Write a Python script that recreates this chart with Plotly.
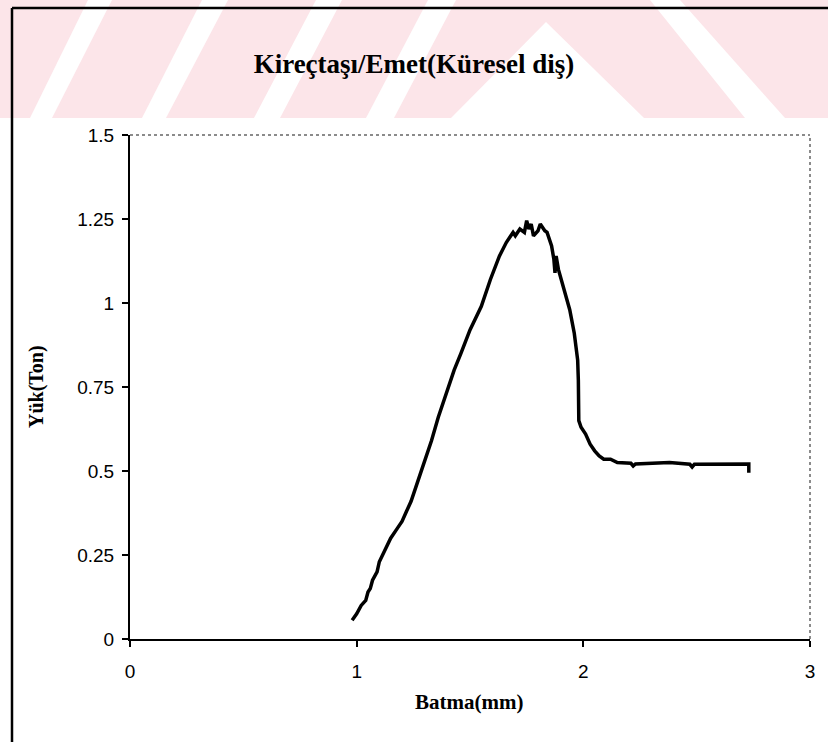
import plotly.graph_objects as go

# ---- data ----
batma_mm = [0.98, 1.00, 1.02, 1.04, 1.05, 1.06, 1.07, 1.08, 1.09, 1.10, 1.12, 1.13,
            1.15, 1.18, 1.20, 1.22, 1.24, 1.27, 1.30, 1.33, 1.36, 1.40, 1.43, 1.46,
            1.50, 1.55, 1.59, 1.63, 1.66, 1.69, 1.70, 1.72, 1.74, 1.75, 1.76, 1.77,
            1.78, 1.80, 1.81, 1.83, 1.84, 1.86, 1.87, 1.875, 1.88, 1.89, 1.91, 1.94,
            1.96, 1.975, 1.978, 1.98, 1.99, 2.01, 2.03, 2.05, 2.07, 2.09, 2.12, 2.15,
            2.21, 2.22, 2.23, 2.38, 2.47, 2.48, 2.49, 2.73, 2.73]
yuk_ton = [0.056, 0.075, 0.10, 0.115, 0.14, 0.15, 0.175, 0.19, 0.20, 0.23, 0.26, 0.275,
           0.30, 0.33, 0.35, 0.38, 0.41, 0.47, 0.53, 0.59, 0.66, 0.74, 0.80, 0.85,
           0.92, 0.99, 1.07, 1.14, 1.18, 1.21, 1.20, 1.22, 1.21, 1.245, 1.22, 1.235,
           1.20, 1.215, 1.235, 1.215, 1.21, 1.17, 1.13, 1.09, 1.14, 1.10, 1.05, 0.98,
           0.91, 0.83, 0.77, 0.65, 0.63, 0.61, 0.58, 0.56, 0.545, 0.535, 0.535, 0.525,
           0.523, 0.515, 0.521, 0.525, 0.52, 0.512, 0.52, 0.521, 0.495]
x_ticks = [0, 1, 2, 3]
y_ticks = [0, 0.25, 0.5, 0.75, 1, 1.25, 1.5]
y_tick_labels = ["0", "0.25", "0.5", "0.75", "1", "1.25", "1.5"]

W, H = 828, 742
L, R, T, B = 130, 18, 135, 103
PW, PH = W - L - R, H - T - B


def px(x, y):
    return (x - L) / PW, (H - B - y) / PH


def path(points):
    s = ""
    for i, (x, y) in enumerate(points):
        a, b = px(x, y)
        s += ("M" if i == 0 else "L") + f"{a:.5f},{b:.5f} "
    return s + "Z"


fig = go.Figure()
fig.add_trace(go.Scatter(x=batma_mm, y=yuk_ton, mode="lines",
                         line=dict(color="black", width=3.5), showlegend=False))

shapes = []
pink = "#fce5e9"
# watermark band
shapes.append(dict(type="path", path=path([(0, 0), (W, 0), (W, 118), (0, 118)]),
                   xref="paper", yref="paper", fillcolor=pink, line=dict(width=0), layer="below"))
for (b0, b1, t0, t1) in [(30, 52, 88, 112), (142, 166, 202, 228), (254, 280, 316, 342),
                         (366, 394, 428, 456)]:
    shapes.append(dict(type="path", path=path([(b0, 118), (b1, 118), (t1, 0), (t0, 0)]),
                       xref="paper", yref="paper", fillcolor="white", line=dict(width=0), layer="below"))
shapes.append(dict(type="path", path=path([(451, 118), (546, 22), (644, 118)]),
                   xref="paper", yref="paper", fillcolor="white", line=dict(width=0), layer="below"))
shapes.append(dict(type="path", path=path([(650, 0), (680, 0), (785, 118), (745, 118)]),
                   xref="paper", yref="paper", fillcolor="white", line=dict(width=0), layer="below"))
# outer border
shapes.append(dict(type="line", xref="paper", yref="paper",
                   x0=px(12, 8)[0], y0=px(12, 8)[1], x1=px(12, 742)[0], y1=px(12, 742)[1],
                   line=dict(color="black", width=2.5)))
shapes.append(dict(type="line", xref="paper", yref="paper",
                   x0=px(12, 8)[0], y0=px(12, 8)[1], x1=px(828, 8)[0], y1=px(828, 8)[1],
                   line=dict(color="black", width=2.5)))
# dotted top/right plot frame
shapes.append(dict(type="line", xref="paper", yref="paper", x0=0, y0=1, x1=1, y1=1,
                   line=dict(color="#666", width=1.5, dash="dot")))
shapes.append(dict(type="line", xref="paper", yref="paper", x0=1, y0=0, x1=1, y1=1,
                   line=dict(color="#666", width=1.5, dash="dot")))

fig.update_layout(
    width=W, height=H,
    margin=dict(l=L, r=R, t=T, b=B),
    paper_bgcolor="white", plot_bgcolor="rgba(0,0,0,0)",
    shapes=shapes,
    title=dict(text="<b>Kireçtaşı/Emet(Küresel diş)</b>", x=0.5, xref="container",
               y=1 - 64 / H, yref="container", xanchor="center", yanchor="middle",
               font=dict(family="Liberation Serif", size=27, color="black")),
    annotations=[
        dict(text="<b>Yük(Ton)</b>", textangle=-90, xref="paper", yref="paper",
             x=px(36, 387)[0], y=px(36, 387)[1], showarrow=False, xanchor="center", yanchor="middle",
             font=dict(family="Liberation Serif", size=20, color="black")),
        dict(text="<b>Batma(mm)</b>", xref="paper", yref="paper",
             x=px(469, 702)[0], y=px(469, 702)[1], showarrow=False, xanchor="center", yanchor="middle",
             font=dict(family="Liberation Serif", size=21, color="black")),
    ],
    xaxis=dict(range=[0, 3], tickvals=x_ticks, showgrid=False, zeroline=False,
               showline=True, linecolor="black", linewidth=2,
               ticks="outside", ticklen=6, tickwidth=1.5, tickcolor="black",
               ticklabelstandoff=8,
               tickfont=dict(family="Liberation Sans", size=19, color="black")),
    yaxis=dict(range=[0, 1.5], tickvals=y_ticks, ticktext=y_tick_labels, showgrid=False,
               zeroline=False, showline=True, linecolor="black", linewidth=2,
               ticks="outside", ticklen=6, tickwidth=1.5, tickcolor="black",
               ticklabelstandoff=4,
               tickfont=dict(family="Liberation Sans", size=19, color="black")),
)

fig.write_html("out.html", config={"displayModeBar": False},
               post_script="document.body.style.margin='0';document.body.style.padding='0';")
